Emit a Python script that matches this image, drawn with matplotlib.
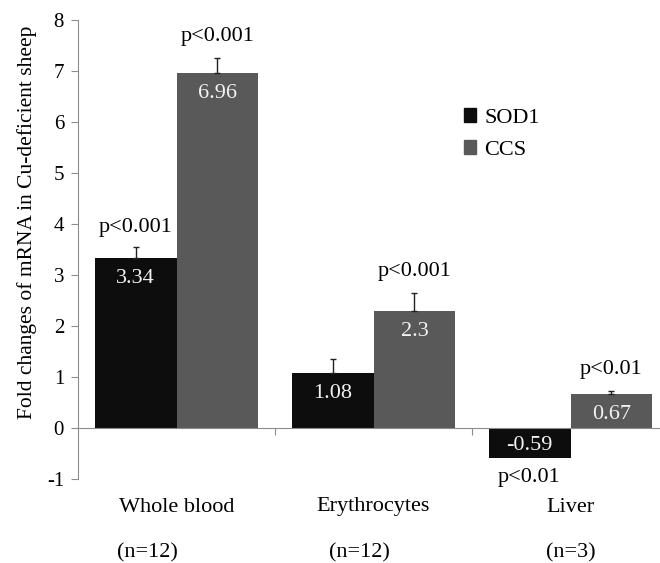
import matplotlib
matplotlib.use("Agg")
import matplotlib.pyplot as plt
import matplotlib.transforms as mtransforms
from matplotlib.patches import Patch

plt.rcParams['font.family'] = ['Liberation Serif', 'DejaVu Serif']
plt.rcParams['axes.unicode_minus'] = False

categories = ["Whole blood", "Erythrocytes", "Liver"]
n_labels = ["(n=12)", "(n=12)", "(n=3)"]
sod1 = [3.34, 1.08, -0.59]
ccs = [6.96, 2.30, 0.67]
sod1_err = [0.21, 0.27, 0.0]
ccs_err = [0.29, 0.34, 0.06]
sod1_p = ["p<0.001", "", "p<0.01"]
ccs_p = ["p<0.001", "p<0.001", "p<0.01"]
sod1_txt = ["3.34", "1.08", "-0.59"]
ccs_txt = ["6.96", "2.3", "0.67"]

W, H = 660, 563
fig = plt.figure(figsize=(6.6, 5.63), dpi=100)
# axes spans beyond the right edge (the reference is cropped on the right)
ax = fig.add_axes([78/W, 1-479/H, 591/W, 459/H])

w = 0.416
x = list(range(len(categories)))
xs = [i - w/2 for i in x]
xc = [i + w/2 for i in x]
c1 = '#0d0d0d'
c2 = '#595959'
ax.bar(xs, sod1, width=w, color=c1, zorder=2)
ax.bar(xc, ccs, width=w, color=c2, zorder=2)
for i in x:
    if sod1_err[i] > 0:
        ax.errorbar(xs[i], sod1[i], yerr=[[0], [sod1_err[i]]], fmt='none', ecolor='#222222',
                    elinewidth=1, capsize=2.5, capthick=1, zorder=3)
    if ccs_err[i] > 0:
        ax.errorbar(xc[i], ccs[i], yerr=[[0], [ccs_err[i]]], fmt='none', ecolor='#222222',
                    elinewidth=1, capsize=2.5, capthick=1, zorder=3)

fs = 16
vcol = '#f2f2f2'
for i in x:
    if sod1[i] >= 0:
        ax.text(xs[i], sod1[i] - 0.4, sod1_txt[i], ha='center', va='center', color=vcol, fontsize=fs, zorder=4)
    else:
        ax.text(xs[i], sod1[i] + 0.25, sod1_txt[i], ha='center', va='center', color=vcol, fontsize=fs, zorder=4)
    ax.text(xc[i], ccs[i] - 0.4, ccs_txt[i], ha='center', va='center', color=vcol, fontsize=fs, zorder=4)

for i in x:
    if sod1_p[i]:
        if sod1[i] >= 0:
            ax.text(xs[i], sod1[i] + sod1_err[i] + 0.39, sod1_p[i], ha='center', va='center', fontsize=fs)
        else:
            ax.text(xs[i], sod1[i] - 0.38, sod1_p[i], ha='center', va='center', fontsize=fs)
    ax.text(xc[i], ccs[i] + ccs_err[i] + 0.42, ccs_p[i], ha='center', va='center', fontsize=fs)

ax.set_xlim(-0.5, 2.5)
ax.set_ylim(-1, 8)
ax.set_yticks(range(-1, 9))
ax.tick_params(axis='y', labelsize=15, length=5, color='#8c8c8c', pad=5)

for s in ['top', 'right']:
    ax.spines[s].set_visible(False)
ax.spines['left'].set_color('#8c8c8c')
ax.spines['bottom'].set_position(('data', 0))
ax.spines['bottom'].set_color('#8c8c8c')
ax.set_xticks([0.5, 1.5])
ax.set_xticklabels([])
ax.tick_params(axis='x', length=5, color='#8c8c8c', direction='out')

fig.text(27/W, 1-222/H, "Fold changes of mRNA in Cu-deficient sheep", rotation=90,
         ha='center', va='center', fontsize=15.5)

trans = mtransforms.blended_transform_factory(ax.transData, fig.transFigure)
n_offsets = [-0.15, -0.07, 0.0]
for i in x:
    ax.text(i, 1 - 507/H, categories[i], transform=trans, ha='center', va='center', fontsize=fs)
    ax.text(i + n_offsets[i], 1 - 553/H, n_labels[i], transform=trans, ha='center', va='center', fontsize=fs)

handles = [Patch(color=c1, label='SOD1'), Patch(color=c2, label='CCS')]
leg = ax.legend(handles=handles, loc='center left', bbox_to_anchor=((464-78)/591, (479-134)/459),
                frameon=False, fontsize=fs, handlelength=0.55, handleheight=0.55,
                handletextpad=0.35, labelspacing=0.55, borderpad=0, borderaxespad=0)

fig.savefig("out.png", dpi=100)
